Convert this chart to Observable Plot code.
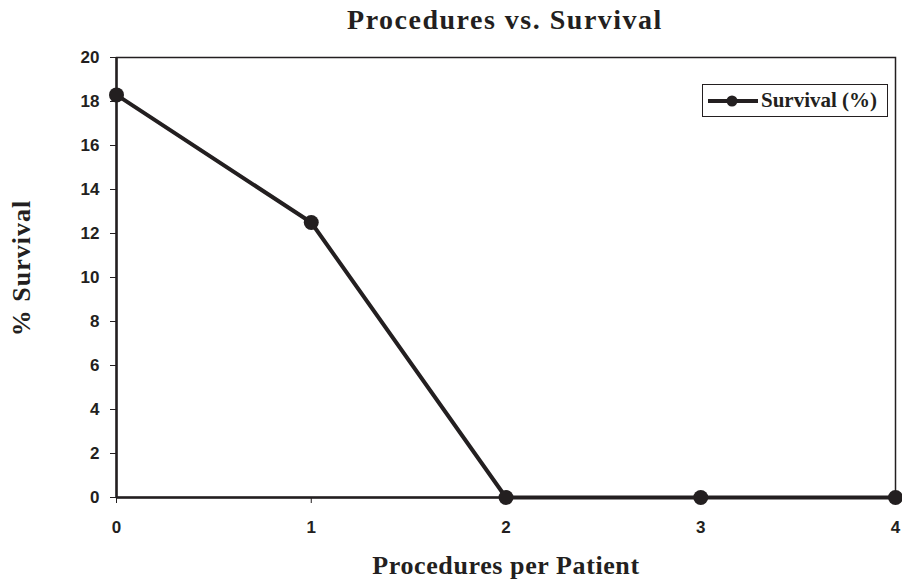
<!DOCTYPE html>
<html><head><meta charset="utf-8">
<script src="https://cdn.jsdelivr.net/npm/d3@7"></script>
<script src="https://cdn.jsdelivr.net/npm/@observablehq/plot@0.6"></script>
<style>
body{margin:0;background:#fff;}
#wrap{position:relative;width:902px;height:588px;}
#title{position:absolute;left:100px;width:810px;top:4px;text-align:center;font:bold 28px "Liberation Serif",serif;color:#231f20;letter-spacing:1.5px;line-height:32px;}
#ylab{position:absolute;left:22px;top:268px;transform:translate(-50%,-50%) rotate(-90deg);font:bold 26px "Liberation Serif",serif;color:#231f20;letter-spacing:1px;white-space:nowrap;line-height:30px;}
#legend{position:absolute;left:702px;top:84px;width:186px;height:33px;border:1.5px solid #231f20;box-sizing:border-box;display:flex;align-items:center;font:bold 21px "Liberation Serif",serif;color:#231f20;white-space:nowrap;}
#legend svg{margin-left:4px;margin-right:2px;}
</style></head>
<body><div id="wrap"><div id="title">Procedures vs. Survival</div>
<div id="ylab">% Survival</div>
<div id="legend"><svg width="52" height="14"><line x1="1" y1="7" x2="51" y2="7" stroke="#231f20" stroke-width="4"/><circle cx="25" cy="7" r="5.5" fill="#231f20"/></svg>Survival (%)</div>
</div>
<script>
const procedures = [0, 1, 2, 3, 4];
const survival = [18.3, 12.5, 0, 0, 0];
const yTicks = [0, 2, 4, 6, 8, 10, 12, 14, 16, 18, 20];
const xTicks = [0, 1, 2, 3, 4];
const data = procedures.map((p, i) => ({p, s: survival[i]}));
const ink = "#231f20";
const tickFont = "Liberation Sans, Arial, sans-serif";
const chart = Plot.plot({
  width: 902, height: 588,
  marginLeft: 116, marginRight: 7, marginTop: 57, marginBottom: 91,
  style: {fontFamily: tickFont, color: ink, background: "transparent"},
  x: {domain: [0, 4]},
  y: {domain: [0, 20]},
  marks: [
    Plot.frame({stroke: ink, strokeWidth: 1.5}),
    Plot.ruleX([0], {stroke: ink, strokeWidth: 2.5}),
    Plot.ruleY([0], {stroke: ink, strokeWidth: 2.5}),
    Plot.axisY({ticks: yTicks, tickFormat: () => "", tickSize: 6, label: null, stroke: ink}),
    Plot.axisX({ticks: xTicks, tickFormat: () => "", tickSize: 6, label: null, stroke: ink}),
    Plot.text(yTicks, {y: d => d, frameAnchor: "left", dx: -17, textAnchor: "end", lineAnchor: "middle", text: d => String(d), fontSize: 17, fontWeight: "bold", fontFamily: tickFont, fill: ink}),
    Plot.text(xTicks, {x: d => d, frameAnchor: "bottom", dy: 30, textAnchor: "middle", lineAnchor: "middle", text: d => String(d), fontSize: 17, fontWeight: "bold", fontFamily: tickFont, fill: ink}),
    Plot.line(data, {x: "p", y: "s", stroke: ink, strokeWidth: 4}),
    Plot.dot(data, {x: "p", y: "s", r: 7.5, fill: ink, stroke: "none"}),
    Plot.text(["Procedures per Patient"], {frameAnchor: "bottom", dy: 76, text: d => d, fontFamily: "Liberation Serif, serif", fontWeight: "bold", fontSize: 26, fill: ink})
  ]
});
chart.style.position = "absolute"; chart.style.left = "0"; chart.style.top = "0";
chart.querySelectorAll("text").forEach(t => { if (t.textContent === "Procedures per Patient") t.setAttribute("letter-spacing", "0.6"); });
document.getElementById("wrap").prepend(chart);
</script></body></html>
